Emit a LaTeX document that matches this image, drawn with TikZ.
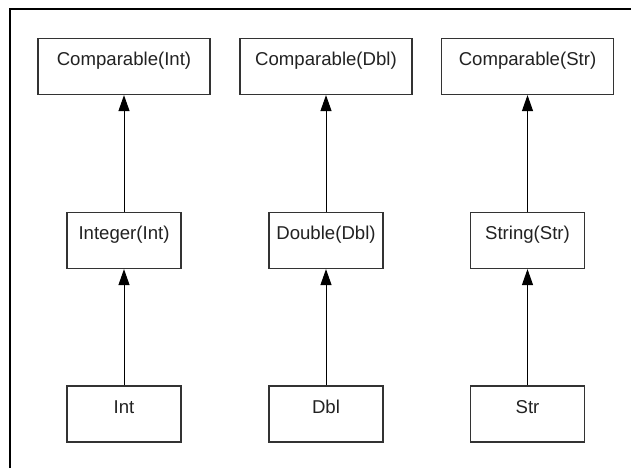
\documentclass[tikz,border=0pt]{standalone}
\usepackage{fontspec}
\setmainfont{Liberation Sans}
\usetikzlibrary{arrows.meta}
\definecolor{boxline}{HTML}{333333}
\definecolor{txt}{HTML}{222222}
\begin{document}
\begin{tikzpicture}[x=1pt,y=-1pt,
  umlbox/.style={draw=boxline, line width=1.2pt, rectangle, minimum height=56pt,
    inner sep=0pt, text=txt, font=\fontsize{18.6}{20}\selectfont,
    text height=8pt, text depth=10pt},
  topbox/.style={umlbox, minimum width=172pt},
  midbox/.style={umlbox, minimum width=114pt},
  inherit/.style={draw=black, line width=1pt, -{Triangle[width=11pt,length=16pt]}}
]
\useasboundingbox (0,0) rectangle (631,468);
\fill[white] (0,0) rectangle (631,468);
\draw[line width=1.2pt] (10,468) -- (10,9) -- (631,9);

\node[topbox] (ci) at (124,66.5) {Comparable(Int)};
\node[topbox] (cd) at (326,66.5) {Comparable(Dbl)};
\node[topbox] (cs) at (527.5,66.5) {Comparable(Str)};

\node[midbox] (ii) at (124,240.5) {Integer(Int)};
\node[midbox] (dd) at (326,240.5) {Double(Dbl)};
\node[midbox] (ss) at (527.5,240.5) {String(Str)};

\node[midbox] (i) at (124,414) {Int};
\node[midbox] (d) at (326,414) {Dbl};
\node[midbox] (s) at (527.5,414) {Str};

\draw[inherit] (ii.north) -- (ci.south);
\draw[inherit] (dd.north) -- (cd.south);
\draw[inherit] (ss.north) -- (cs.south);
\draw[inherit] (i.north) -- (ii.south);
\draw[inherit] (d.north) -- (dd.south);
\draw[inherit] (s.north) -- (ss.south);
\end{tikzpicture}
\end{document}
